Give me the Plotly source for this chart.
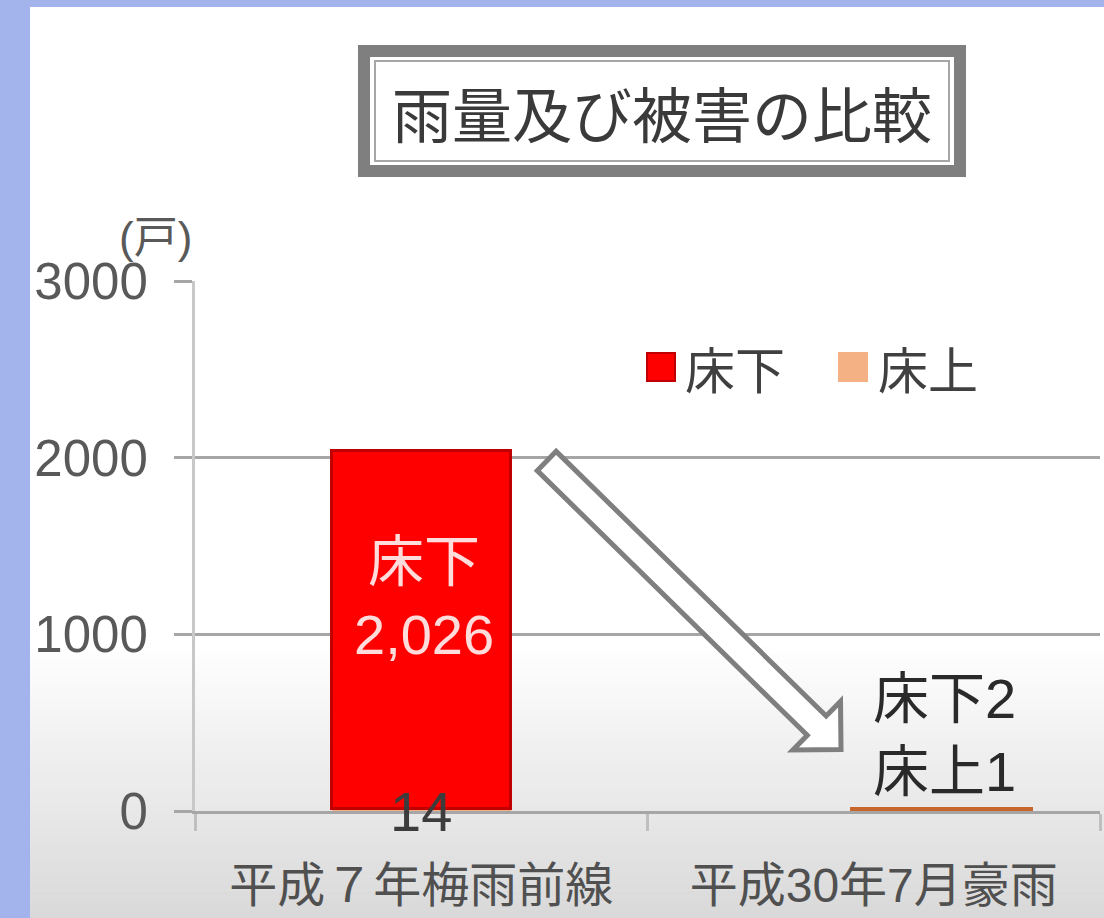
import plotly.graph_objects as go
import math

# ---------------- data ----------------
categories = ["平成７年梅雨前線", "平成30年7月豪雨"]
series_names = ["床下", "床上"]
under_floor = [2026, 2]      # 床下
over_floor = [14, 1]         # 床上
y_tick_values = [0, 1000, 2000, 3000]
series_colors = ["#FF0000", "#F4B183"]
title_text = "雨量及び被害の比較"
unit_label = "(戸)"

# ---------------- geometry helpers ----------------
W, H = 1104, 918
ML, MR, MT, MB = 195, 4, 281, 107
PW = W - ML - MR
PH = H - MT - MB


def xp(px):
    return (px - ML) / PW


def yp(py):
    return (H - MB - py) / PH


FONT = "Liberation Sans, Noto Sans CJK JP, sans-serif"
CJK = "Noto Sans CJK JP, sans-serif"
LINE_ORANGE = "#C8652A"

fig = go.Figure()

# 床上 at the bottom of the stack, 床下 on top
fig.add_trace(go.Bar(
    name=series_names[1], x=categories, y=over_floor,
    marker=dict(color=[series_colors[1], LINE_ORANGE],
                line=dict(color=[series_colors[1], LINE_ORANGE], width=[0, 7])),
    width=[0.396, 0.389], offset=[-0.198, -0.044],
    showlegend=False,
))
fig.add_trace(go.Bar(
    name=series_names[0], x=categories, y=under_floor,
    marker=dict(color=[series_colors[0], LINE_ORANGE],
                line=dict(color=["#C00000", LINE_ORANGE], width=[3, 7])),
    width=[0.396, 0.389], offset=[-0.198, -0.044],
    showlegend=False,
))

shapes = []

# background gradient toward the bottom
g_top, g_bot = 640, H
n = 40
for i in range(n):
    y0 = g_top + (g_bot - g_top) * i / n
    y1 = g_top + (g_bot - g_top) * (i + 1) / n + 0.5
    t = (i + 0.5) / n
    c = int(round(255 - 38 * t))
    shapes.append(dict(type="rect", xref="paper", yref="paper", layer="below",
                       x0=xp(0), x1=xp(W), y0=yp(y1), y1=yp(y0),
                       line=dict(width=0), fillcolor=f"rgb({c},{c},{c})"))

# title box (double frame)
shapes.append(dict(type="rect", xref="paper", yref="paper", layer="above",
                   x0=xp(364), x1=xp(960), y0=yp(171), y1=yp(51),
                   line=dict(color="#7f7f7f", width=12), fillcolor="white"))
shapes.append(dict(type="rect", xref="paper", yref="paper", layer="above",
                   x0=xp(375), x1=xp(949), y0=yp(161), y1=yp(61),
                   line=dict(color="#a6a6a6", width=2)))

# block arrow
tail = (546.7, 461.0)
tip = (841.0, 749.5)
dx, dy = tip[0] - tail[0], tip[1] - tail[1]
ln = math.hypot(dx, dy)
d = (dx / ln, dy / ln)
nrm = (-d[1], d[0])
sh, hh, hl = 13.5, 34.0, 34.0
base = (tip[0] - d[0] * hl, tip[1] - d[1] * hl)
pts = [
    (tail[0] + nrm[0] * sh, tail[1] + nrm[1] * sh),
    (base[0] + nrm[0] * sh, base[1] + nrm[1] * sh),
    (base[0] + nrm[0] * hh, base[1] + nrm[1] * hh),
    tip,
    (base[0] - nrm[0] * hh, base[1] - nrm[1] * hh),
    (base[0] - nrm[0] * sh, base[1] - nrm[1] * sh),
    (tail[0] - nrm[0] * sh, tail[1] - nrm[1] * sh),
]
path = "M " + " L ".join(f"{xp(x):.5f},{yp(y):.5f}" for x, y in pts) + " Z"
shapes.append(dict(type="path", xref="paper", yref="paper", layer="above", path=path,
                   line=dict(color="#7f7f7f", width=5), fillcolor="white"))

# legend squares
leg_sq = [(647, 675), (839, 867)]
for (x0, x1), col, lc in zip(leg_sq, series_colors, ["#C00000", series_colors[1]]):
    shapes.append(dict(type="rect", xref="paper", yref="paper", layer="above",
                       x0=xp(x0), x1=xp(x1), y0=yp(381), y1=yp(353),
                       line=dict(color=lc, width=2), fillcolor=col))

# lavender frame strips
LAV = "#a3b3ec"
shapes.append(dict(type="rect", xref="paper", yref="paper", layer="above",
                   x0=xp(0), x1=xp(30), y0=yp(H), y1=yp(0),
                   line=dict(width=0), fillcolor=LAV))
shapes.append(dict(type="rect", xref="paper", yref="paper", layer="above",
                   x0=xp(0), x1=xp(W), y0=yp(7), y1=yp(0),
                   line=dict(width=0), fillcolor=LAV))

annotations = []
# title
annotations.append(dict(text=title_text, xref="paper", yref="paper", x=xp(662), y=yp(112),
                        xanchor="center", yanchor="middle", showarrow=False,
                        font=dict(family=CJK, size=60, color="#3a3a3a")))
# unit label
annotations.append(dict(text=unit_label, xref="paper", yref="paper", x=xp(155), y=yp(237),
                        xanchor="center", yanchor="middle", showarrow=False,
                        font=dict(family=FONT, size=44, color="#595959")))
# legend texts
for name, x0 in zip(series_names, [683, 876]):
    annotations.append(dict(text=name, xref="paper", yref="paper", x=xp(x0), y=yp(367),
                            xanchor="left", yanchor="middle", showarrow=False,
                            font=dict(family=CJK, size=50, color="#404040")))

# data labels
total0 = under_floor[0] + over_floor[0]
annotations.append(dict(text=f"{series_names[0]}<br>{under_floor[0]:,}",
                        x=categories[0], y=total0 / 2, xref="x", yref="y", yshift=33, xshift=3,
                        showarrow=False, xanchor="center", yanchor="middle",
                        font=dict(family=FONT, size=56, color="#ffdcdc")))
annotations.append(dict(text=f"{over_floor[0]}", x=categories[0], y=0, xref="x", yref="y",
                        showarrow=False, xanchor="center", yanchor="middle",
                        font=dict(family=FONT, size=56, color="#3c3c3c")))
annotations.append(dict(text=f"{series_names[0]}{under_floor[1]}<br>{series_names[1]}{over_floor[1]}",
                        x=categories[1], y=0, xref="x", yref="y", xshift=71, yshift=76,
                        showarrow=False, xanchor="center", yanchor="middle",
                        font=dict(family=FONT, size=56, color="#2a2a2a")))

fig.update_layout(
    width=W, height=H,
    margin=dict(l=ML, r=MR, t=MT, b=MB, pad=0),
    template="none",
    paper_bgcolor="white", plot_bgcolor="rgba(0,0,0,0)",
    barmode="stack", showlegend=False,
    font=dict(family=FONT, color="#595959"),
    xaxis=dict(type="category", range=[-0.5, 1.5], tickson="boundaries",
               ticks="outside", ticklen=17, tickwidth=3, tickcolor="#bfbfbf",
               showline=True, linecolor="#a6a6a6", linewidth=3, showgrid=False,
               tickfont=dict(size=48, color="#505050", family=FONT),
               ticklabelstandoff=30, automargin=False),
    yaxis=dict(range=[0, 3000], tickvals=y_tick_values,
               ticktext=[str(v) for v in y_tick_values],
               ticks="outside", ticklen=18, tickwidth=3, tickcolor="#a6a6a6",
               showgrid=True, gridcolor="#a6a6a6", gridwidth=3,
               showline=True, linecolor="#c8c8c8", linewidth=3, zeroline=False,
               tickfont=dict(size=51, color="#595959", family=FONT),
               ticklabelstandoff=16, automargin=False),
    shapes=shapes, annotations=annotations,
)

fig.write_html("out.html")
